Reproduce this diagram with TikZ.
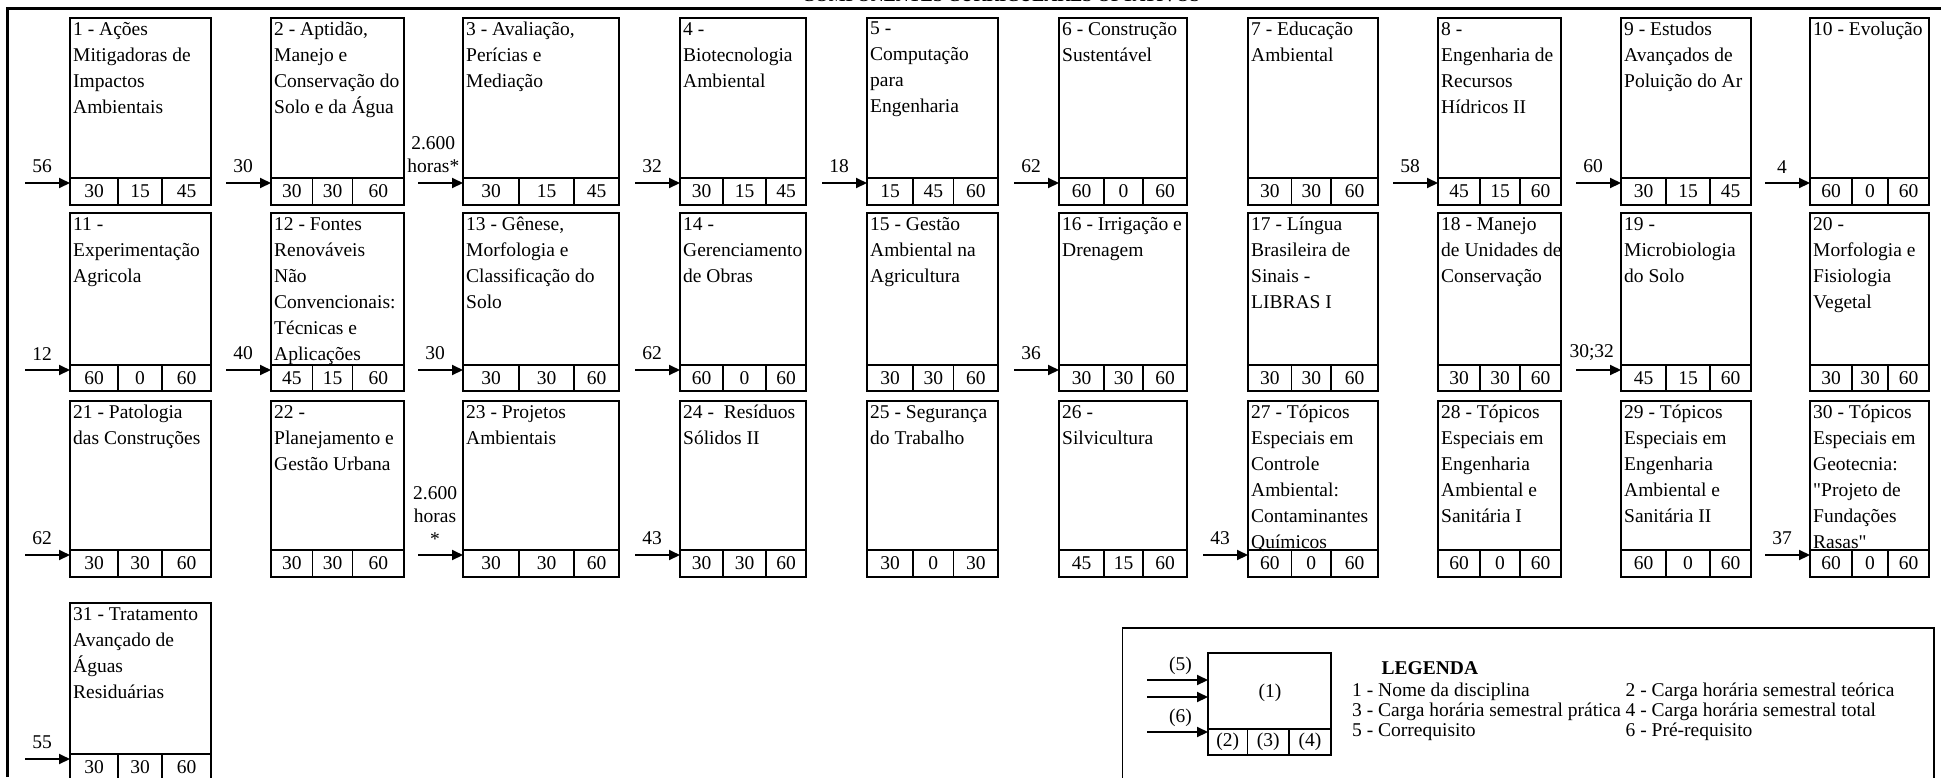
\documentclass[tikz,border=0pt]{standalone}
\usepackage{fontspec}
\setmainfont{Liberation Serif}[Ligatures=TeXOff]
\usetikzlibrary{arrows.meta}
\newcommand\defcol[5]{\expandafter\def\csname cl#1\endcsname{#2}\expandafter\def\csname cr#1\endcsname{#3}\expandafter\def\csname ca#1\endcsname{#4}\expandafter\def\csname cb#1\endcsname{#5}}
\newcommand\defrow[4]{\expandafter\def\csname rt#1\endcsname{#2}\expandafter\def\csname rs#1\endcsname{#3}\expandafter\def\csname rb#1\endcsname{#4}}
\defcol{1}{70}{211}{118}{162}
\defcol{2}{271}{404}{312.5}{352.7}
\defcol{3}{463}{619}{519}{574}
\defcol{4}{680}{806}{723}{766}
\defcol{5}{867}{998}{913}{953.5}
\defcol{6}{1059}{1187}{1104}{1143}
\defcol{7}{1248}{1378}{1291.5}{1331}
\defcol{8}{1438}{1561}{1480}{1520}
\defcol{9}{1621}{1751}{1666}{1710}
\defcol{10}{1810}{1929}{1852}{1888}
\defrow{1}{18}{178}{205}
\defrow{2}{213}{365}{391}
\defrow{3}{401}{550}{577}
\defrow{4}{603}{754}{781}
\newcommand\course[7]{%
 \edef\XL{\csname cl#2\endcsname}\edef\XR{\csname cr#2\endcsname}%
 \edef\XA{\csname ca#2\endcsname}\edef\XB{\csname cb#2\endcsname}%
 \edef\YT{\csname rt#3\endcsname}\edef\YS{\csname rs#3\endcsname}\edef\YB{\csname rb#3\endcsname}%
 \node[cbox, minimum width={(\XR-\XL)*1pt}, minimum height={(\YB-\YT)*1pt}] (#1) at ({(\XL+\XR)/2},{(\YT+\YB)/2}) {};
 \draw[cline] (\XL,\YS) -- (\XR,\YS);
 \draw[cline] (\XA,\YS) -- (\XA,\YB);
 \draw[cline] (\XB,\YS) -- (\XB,\YB);
 \node[ctext] (#1-t) at (\XL,\YT) {#4};
 \node[num] (#1-a) at ({(\XL+\XA)/2},{(\YS+\YB)/2}) {#5};
 \node[num] (#1-b) at ({(\XA+\XB)/2},{(\YS+\YB)/2}) {#6};
 \node[num] (#1-c) at ({(\XB+\XR)/2},{(\YS+\YB)/2}) {#7};
}
\newcommand\prereq[5][.38]{%
 \edef\XS{\csname cl#5\endcsname}\edef\YA{\csname rs#4\endcsname}%
 \coordinate (#2-src) at ({\XS-45},{\YA+5});
 \draw[arr] (#2-src) -- (#2-src -| #2.west) node[lab,pos=#1] {#3};
}
\begin{document}
\begin{tikzpicture}[x=1pt,y=-1pt,
  cbox/.style={draw, line width=1.3pt, inner sep=0pt, outer sep=0pt},
  cline/.style={line width=1.3pt},
  frame/.style={line width=2.5pt},
  ctext/.style={anchor=north west, align=left, inner xsep=3pt, inner ysep=4pt, font=\fontsize{19.5}{26}\selectfont},
  num/.style={inner sep=0pt, font=\fontsize{19.5}{24}\selectfont},
  arr/.style={line width=2pt, -{Triangle[length=11pt,width=10pt]}},
  lab/.style={above=9pt, inner sep=0pt, align=center, font=\fontsize{19.5}{23}\selectfont},
  llab/.style={above=4pt, inner sep=0pt, font=\fontsize{19.5}{23}\selectfont},
  legitem/.style={anchor=west, inner sep=0pt, font=\fontsize{19.5}{20}\selectfont},
]
\useasboundingbox (0,0) rectangle (1941,777);
\begin{scope}
\clip (0,0) rectangle (1941,777);
\fill[white] (0,0) rectangle (1941,777);
\node[font=\fontsize{18}{20}\selectfont\bfseries, anchor=base, inner sep=0pt] (title) at (1001,1.2) {COMPONENTES CURRICULARES OPTATIVOS};
\draw[frame] (7.5,777) -- (7.5,8.7) -- (1941,8.7);
% row 1
\course{c1}{1}{1}{1 - Ações\\Mitigadoras de\\Impactos\\Ambientais}{30}{15}{45}
\course{c2}{2}{1}{2 - Aptidão,\\Manejo e\\Conservação do\\Solo e da Água}{30}{30}{60}
\course{c3}{3}{1}{3 - Avaliação,\\Perícias e\\Mediação}{30}{15}{45}
\course{c4}{4}{1}{4 -\\Biotecnologia\\Ambiental}{30}{15}{45}
\course{c5}{5}{1}{5 -\\Computação\\para\\Engenharia}{15}{45}{60}
\course{c6}{6}{1}{6 - Construção\\Sustentável}{60}{0}{60}
\course{c7}{7}{1}{7 - Educação\\Ambiental}{30}{30}{60}
\course{c8}{8}{1}{8 -\\Engenharia de\\Recursos\\Hídricos II}{45}{15}{60}
\course{c9}{9}{1}{9 - Estudos\\Avançados de\\Poluição do Ar}{30}{15}{45}
\course{c10}{10}{1}{10 - Evolução}{60}{0}{60}
% row 2
\course{c11}{1}{2}{11 -\\Experimentação\\Agricola}{60}{0}{60}
\course{c12}{2}{2}{12 - Fontes\\Renováveis\\Não\\Convencionais:\\Técnicas e\\Aplicações}{45}{15}{60}
\course{c13}{3}{2}{13 - Gênese,\\Morfologia e\\Classificação do\\Solo}{30}{30}{60}
\course{c14}{4}{2}{14 -\\Gerenciamento\\de Obras}{60}{0}{60}
\course{c15}{5}{2}{15 - Gestão\\Ambiental na\\Agricultura}{30}{30}{60}
\course{c16}{6}{2}{16 - Irrigação e\\Drenagem}{30}{30}{60}
\course{c17}{7}{2}{17 - Língua\\Brasileira de\\Sinais -\\LIBRAS I}{30}{30}{60}
\course{c18}{8}{2}{18 - Manejo\\de Unidades de\\Conservação}{30}{30}{60}
\course{c19}{9}{2}{19 -\\Microbiologia\\do Solo}{45}{15}{60}
\course{c20}{10}{2}{20 -\\Morfologia e\\Fisiologia\\Vegetal}{30}{30}{60}
% row 3
\course{c21}{1}{3}{21 - Patologia\\das Construções}{30}{30}{60}
\course{c22}{2}{3}{22 -\\Planejamento e\\Gestão Urbana}{30}{30}{60}
\course{c23}{3}{3}{23 - Projetos\\Ambientais}{30}{30}{60}
\course{c24}{4}{3}{24 -~ Resíduos\\Sólidos II}{30}{30}{60}
\course{c25}{5}{3}{25 - Segurança\\do Trabalho}{30}{0}{30}
\course{c26}{6}{3}{26 -\\Silvicultura}{45}{15}{60}
\course{c27}{7}{3}{27 - Tópicos\\Especiais em\\Controle\\Ambiental:\\Contaminantes\\Químicos}{60}{0}{60}
\course{c28}{8}{3}{28 - Tópicos\\Especiais em\\Engenharia\\Ambiental e\\Sanitária I}{60}{0}{60}
\course{c29}{9}{3}{29 - Tópicos\\Especiais em\\Engenharia\\Ambiental e\\Sanitária II}{60}{0}{60}
\course{c30}{10}{3}{30 - Tópicos\\Especiais em\\Geotecnia:\\"Projeto de\\Fundações\\Rasas"}{60}{0}{60}
% row 4
\course{c31}{1}{4}{31 - Tratamento\\Avançado de\\Águas\\Residuárias}{30}{30}{60}
% prerequisites
\prereq{c1}{56}{1}{1}
\prereq{c2}{30}{1}{2}
\prereq[.34]{c3}{2.600\\horas*}{1}{3}
\prereq{c4}{32}{1}{4}
\prereq{c5}{18}{1}{5}
\prereq{c6}{62}{1}{6}
\prereq{c8}{58}{1}{8}
\prereq{c9}{60}{1}{9}
\prereq{c10}{4}{1}{10}
\prereq{c11}{12}{2}{1}
\prereq{c12}{40}{2}{2}
\prereq{c13}{30}{2}{3}
\prereq{c14}{62}{2}{4}
\prereq{c16}{36}{2}{6}
\prereq[.35]{c19}{30;32}{2}{9}
\prereq{c21}{62}{3}{1}
\prereq[.38]{c23}{2.600\\horas\\*}{3}{3}
\prereq{c24}{43}{3}{4}
\prereq{c27}{43}{3}{7}
\prereq{c30}{37}{3}{10}
\prereq{c31}{55}{4}{1}
% legend
\draw[line width=1.8pt] (1122.5,628) rectangle (1934,800);
\node[cbox, minimum width=123pt, minimum height=102pt] (leg) at (1269.5,704) {};
\draw[cline] (1208,729) -- (1331,729);
\draw[cline] (1247.5,729) -- (1247.5,755);
\draw[cline] (1289,729) -- (1289,755);
\node[num] (leg-1) at (1270,693) {(1)};
\node[num] (leg-2) at (1227.7,742) {(2)};
\node[num] (leg-3) at (1268.3,742) {(3)};
\node[num] (leg-4) at (1310,742) {(4)};
\coordinate (l5) at (1147,680);
\coordinate (lx) at (1147,697);
\coordinate (l6) at (1147,732);
\draw[arr] (l5) -- (l5 -| leg.west) node[llab,pos=.55] {(5)};
\draw[arr] (lx) -- (lx -| leg.west);
\draw[arr] (l6) -- (l6 -| leg.west) node[llab,pos=.55] {(6)};
\node[legitem, font=\fontsize{19.5}{20}\selectfont\bfseries] (legt) at (1381.5,668) {LEGENDA};
\node[legitem] (li1) at (1352,692) {1 - Nome da disciplina};
\node[legitem] (li3) at (1352,712) {3 - Carga horária semestral prática};
\node[legitem] (li5) at (1352,732) {5 - Correquisito};
\node[legitem] (li2) at (1625.5,692) {2 - Carga horária semestral teórica};
\node[legitem] (li4) at (1625.5,712) {4 - Carga horária semestral total};
\node[legitem] (li6) at (1625.5,732) {6 - Pré-requisito};
\end{scope}
\end{tikzpicture}
\end{document}
